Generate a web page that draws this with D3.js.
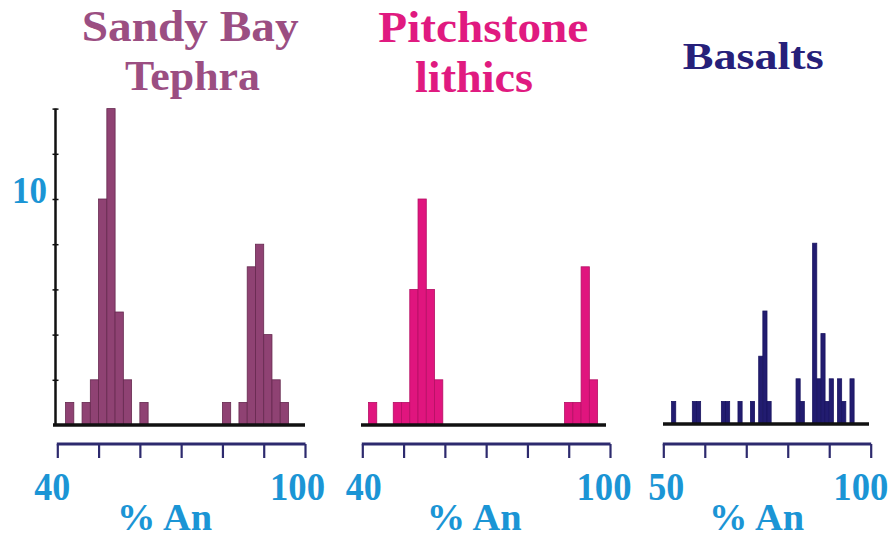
<!DOCTYPE html>
<html>
<head>
<meta charset="utf-8">
<script src="https://cdn.jsdelivr.net/npm/d3@7"></script>
<style>
  html, body { margin: 0; padding: 0; background: #fff; }
  svg { display: block; }
  text { font-family: "Liberation Serif", "Times New Roman", serif; font-weight: bold; }
</style>
</head>
<body>
<svg id="chart" width="893" height="539"></svg>
<script>
// Plagioclase composition histograms (% An), bin lower edges and counts
const sandyBins   = [42, 46, 48, 50, 52, 54, 56, 60, 80, 84, 86, 88, 90, 92, 94];
const sandyCounts = [1, 1, 2, 10, 14, 5, 2, 1, 1, 1, 7, 8, 4, 2, 1];

const pitchBins   = [41.5, 47.5, 49.5, 51.5, 53.5, 55.5, 57.5, 89, 91, 93, 95];
const pitchCounts = [1, 1, 1, 6, 10, 6, 2, 1, 1, 7, 2];

const basaltBins   = [52, 57, 58, 64, 65, 68, 71, 73, 74, 75, 82, 83, 86, 87, 88, 89, 90, 92, 93, 95];
const basaltCounts = [1, 1, 1, 1, 1, 1, 1, 3, 5, 1, 2, 1, 8, 2, 4, 1, 2, 2, 1, 2];

const titles = [["Sandy Bay", "Tephra"], ["Pitchstone", "lithics"], ["Basalts"]];
const axisDomains = [[40, 100], [40, 100], [50, 100]];
const axisLabel = "% An";
const yTickValues = [2, 4, 6, 8, 10, 12, 14];
const yLabelled = [10];

const svg = d3.select("#chart");
const tickColor = "#1b95d5";
const axisColor = "#2d2a6e";

// layout of the three panels
const panels = [
  {
    bins: sandyBins, counts: sandyCounts, binWidth: 2,
    domain: axisDomains[0], range: [57.3, 305], baseY: 425, base: [53, 305],
    fill: "#8f4273", stroke: "#66294f", titleColor: "#9b4e82",
    titleLines: [
      { text: titles[0][0], x: 81.7, y: 41, size: 44, len: 217 },
      { text: titles[0][1], x: 125, y: 90, size: 43, len: 135 }
    ],
    tickDx: [-5.6, -8], labelX: 117
  },
  {
    bins: pitchBins, counts: pitchCounts, binWidth: 2,
    domain: axisDomains[1], range: [362.3, 610], baseY: 425, base: [361, 606],
    fill: "#e0157e", stroke: "#b50f64", titleColor: "#e01a80",
    titleLines: [
      { text: titles[1][0], x: 378.3, y: 42, size: 44, len: 210 },
      { text: titles[1][1], x: 415, y: 92, size: 44, len: 118 }
    ],
    tickDx: [1, -6.5], labelX: 426.7
  },
  {
    bins: basaltBins, counts: basaltCounts, binWidth: 1,
    domain: axisDomains[2], range: [663.3, 870.7], baseY: 424, base: [663, 869],
    fill: "#221c70", stroke: "#1a1560", titleColor: "#26207a",
    titleLines: [
      { text: titles[2][0], x: 682.7, y: 69, size: 38, len: 141 }
    ],
    tickDx: [2.5, -10.4], labelX: 709
  }
];

const pxPerCount = 22.6;
const axisY = 444;

panels.forEach((p, i) => {
  const x = d3.scaleLinear().domain(p.domain).range(p.range);
  const y = d3.scaleLinear().domain([0, 14]).range([p.baseY, p.baseY - 14 * pxPerCount]);
  const g = svg.append("g");

  // titles
  p.titleLines.forEach(t => {
    g.append("text")
      .attr("x", t.x).attr("y", t.y)
      .attr("font-size", t.size)
      .attr("fill", p.titleColor)
      .attr("textLength", t.len)
      .attr("lengthAdjust", "spacingAndGlyphs")
      .text(t.text);
  });

  // histogram bars
  const data = p.bins.map((b, k) => ({ x0: b, x1: b + p.binWidth, n: p.counts[k] }));
  g.append("g").selectAll("rect").data(data).join("rect")
    .attr("x", d => x(d.x0))
    .attr("width", d => x(d.x1) - x(d.x0))
    .attr("y", d => y(d.n))
    .attr("height", d => y(0) - y(d.n))
    .attr("fill", p.fill)
    .attr("stroke", p.stroke)
    .attr("stroke-width", 0.8);

  // baseline
  g.append("line")
    .attr("x1", p.base[0]).attr("x2", p.base[1])
    .attr("y1", y(0)).attr("y2", y(0))
    .attr("stroke", "#111").attr("stroke-width", 3.5);

  // count axis on the first panel only
  if (i === 0) {
    const yAxis = d3.axisLeft(y)
      .tickValues(yTickValues)
      .tickSize(6)
      .tickSizeOuter(0)
      .tickFormat(d => yLabelled.includes(d) ? d : "");
    const ya = g.append("g").attr("transform", "translate(55.5,0)").call(yAxis);
    ya.select(".domain").attr("stroke", "#111").attr("stroke-width", 2.5)
      .attr("d", `M0,${y(14)}V${y(0)}`);
    ya.selectAll(".tick line").attr("x1", 3).attr("x2", -3)
      .attr("stroke", "#111").attr("stroke-width", 1.5);
    ya.selectAll(".tick text")
      .attr("x", -43.5).attr("dy", 0).attr("y", 3)
      .attr("text-anchor", "start")
      .attr("font-size", 37)
      .attr("fill", tickColor)
      .attr("textLength", d => yLabelled.includes(d) ? 35 : null)
      .attr("lengthAdjust", "spacingAndGlyphs")
      .attr("font-family", "Liberation Serif, Times New Roman, serif")
      .attr("font-weight", "bold");
  }

  // % An axis below the panel
  const ends = p.domain;
  const xAxis = d3.axisBottom(x)
    .tickValues(d3.range(ends[0], ends[1] + 1, 10))
    .tickSize(14)
    .tickSizeOuter(0)
    .tickFormat(d => (d === ends[0] || d === ends[1]) ? d : "");
  const xa = g.append("g").attr("transform", `translate(0,${axisY})`).call(xAxis);
  xa.select(".domain").attr("stroke", axisColor).attr("stroke-width", 3)
    .attr("d", `M${p.range[0] - 0.5},0H${p.range[1] + 0.5}`);
  xa.selectAll(".tick line").attr("stroke", axisColor).attr("stroke-width", 2.2);
  xa.selectAll(".tick text")
    .attr("y", 56).attr("dy", 0)
    .attr("dx", d => d === ends[0] ? p.tickDx[0] : p.tickDx[1])
    .attr("font-size", 40)
    .attr("fill", tickColor)
    .attr("textLength", d => d === ends[0] ? 36 : (d === ends[1] ? 55 : null))
    .attr("lengthAdjust", "spacingAndGlyphs")
    .attr("font-family", "Liberation Serif, Times New Roman, serif")
    .attr("font-weight", "bold");

  g.append("text")
    .attr("x", p.labelX).attr("y", 530)
    .attr("font-size", 37)
    .attr("fill", tickColor)
    .attr("textLength", 95)
    .attr("lengthAdjust", "spacingAndGlyphs")
    .text(axisLabel);
});
</script>
</body>
</html>
